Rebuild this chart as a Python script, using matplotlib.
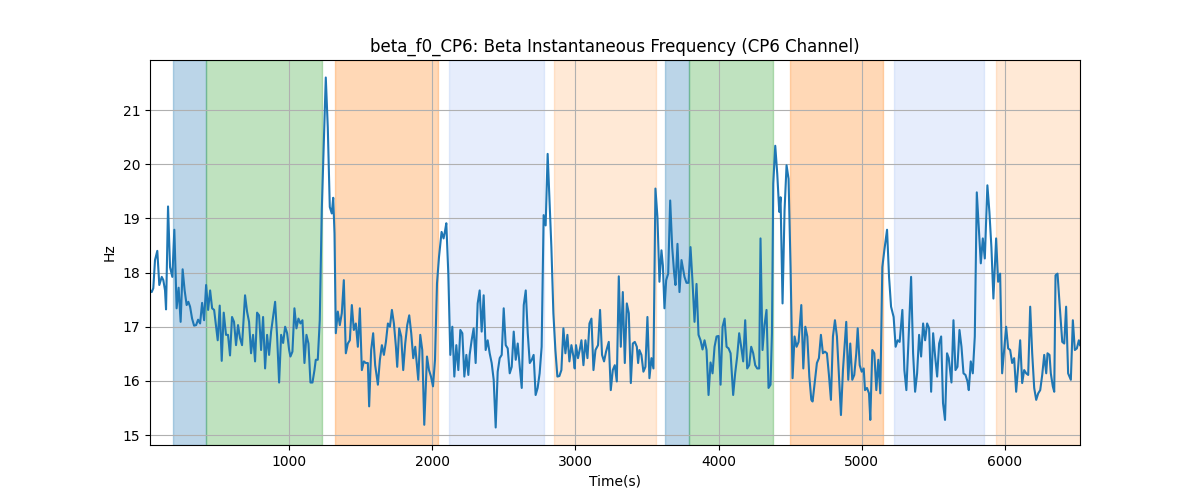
import matplotlib
matplotlib.use("Agg")
import matplotlib.pyplot as plt
import numpy as np

# ---- data: sample times (s) ----
time_s = [
    28, 40, 51, 63, 79, 93, 110, 121, 133, 140, 154, 168, 184, 198, 214, 228, 242, 256, 270, 284,
    296, 308, 322, 336, 350, 364, 378, 392, 406, 420, 434, 448, 462, 476, 490, 501, 515, 529, 543, 559,
    573, 587, 601, 615, 629, 643, 657, 671, 692, 706, 720, 734, 748, 762, 776, 790, 804, 818, 832, 846,
    860, 874, 888, 902, 916, 930, 944,
    958, 972, 986, 1000, 1009, 1023, 1037, 1051, 1065, 1079, 1093, 1107, 1121, 1135, 1149, 1163, 1177, 1186, 1200, 1214,
    1228, 1242, 1256, 1270, 1284, 1298, 1308, 1317, 1326, 1340, 1354, 1368, 1382, 1396, 1410, 1424, 1438, 1452, 1466, 1480,
    1494, 1508, 1522, 1536, 1550, 1559, 1573, 1587, 1601, 1620, 1634, 1648, 1662, 1676, 1690, 1704, 1718, 1732, 1746, 1755,
    1769, 1783, 1797, 1811, 1825, 1839, 1853, 1867, 1881,
    1902, 1916, 1930, 1944, 1963, 1977, 1991, 2005, 2019, 2033, 2047, 2065, 2079, 2088, 2098, 2112, 2126, 2140, 2154, 2168,
    2182, 2196, 2210, 2224, 2238, 2252, 2261, 2275, 2289, 2303, 2317, 2331, 2345, 2359, 2373, 2387, 2401, 2415, 2429, 2443,
    2457, 2471, 2485, 2499, 2513, 2527, 2541, 2555, 2569, 2583, 2597, 2611, 2625, 2639, 2653, 2667, 2681, 2695, 2708, 2722,
    2736, 2750, 2764, 2778, 2792, 2806,
    2832, 2846, 2860, 2874, 2888, 2902, 2916, 2930, 2944, 2958, 2972, 2986, 2995, 3004, 3018, 3032, 3042, 3056, 3070, 3084,
    3098, 3112, 3126, 3140, 3158, 3172, 3186, 3200, 3214, 3233, 3247, 3261, 3275, 3289, 3303, 3317, 3331, 3345, 3359, 3373,
    3387, 3401, 3415, 3429, 3438, 3447, 3461, 3475, 3489, 3503, 3517, 3531, 3545, 3559, 3573, 3587, 3601, 3611, 3622, 3634,
    3648, 3662, 3676, 3690, 3699, 3713, 3727, 3741,
    3762, 3776, 3790, 3804, 3818, 3832, 3846, 3860, 3874, 3888, 3902, 3916, 3930, 3944, 3958, 3972, 3986, 4000, 4014, 4028,
    4042, 4056, 4070, 4084, 4102, 4116, 4130, 4144, 4158, 4172, 4186, 4200, 4214, 4228, 4242, 4256, 4270, 4284, 4293, 4307,
    4321, 4335, 4349, 4363, 4373, 4382, 4396, 4410, 4424, 4433, 4447, 4461, 4475, 4489, 4503, 4517, 4531, 4545, 4559, 4578,
    4592, 4606, 4620, 4634, 4648, 4657, 4671,
    4687, 4701, 4715, 4729, 4743, 4757, 4771, 4785, 4799, 4813, 4827, 4841, 4855, 4869, 4883, 4892, 4906, 4920, 4934, 4948,
    4962, 4972, 4986, 5000, 5014, 5023, 5037, 5051, 5060, 5074, 5088, 5102, 5116, 5130, 5144, 5158, 5177, 5191, 5205, 5223,
    5237, 5251, 5265, 5284, 5298, 5312, 5326, 5345, 5359, 5373, 5387, 5401, 5415, 5429, 5443, 5457, 5471, 5485, 5499, 5513,
    5527, 5541, 5555, 5568, 5582, 5596, 5608,
    5627, 5641, 5655, 5669, 5683, 5697, 5711, 5725, 5739, 5748, 5762, 5776, 5790, 5804, 5818, 5832, 5846, 5860, 5878, 5892,
    5906, 5920, 5939, 5953, 5967, 5981, 5995, 6009, 6023, 6037, 6051, 6065, 6079, 6093, 6107, 6121, 6135, 6149, 6163, 6177,
    6191, 6205, 6219, 6233, 6247, 6261, 6275, 6289, 6298, 6312, 6321, 6335, 6345, 6354, 6368, 6382, 6401, 6415, 6428, 6442,
    6461, 6475, 6489, 6503, 6517, 6525,
]

# ---- data: beta instantaneous frequency (Hz) ----
beta_hz = [
    17.67, 17.64, 17.71, 18.23, 18.40, 17.77, 17.92, 17.86, 17.67, 17.32, 19.22, 18.10, 17.92, 18.79, 17.34, 17.72, 17.09, 18.06, 17.67, 17.40,
    17.46, 17.37, 17.15, 17.02, 17.03, 17.13, 17.06, 17.44, 17.12, 17.77, 17.31, 17.67, 17.34, 17.31, 17.00, 16.75, 17.39, 16.37, 17.26, 16.85,
    16.85, 16.47, 17.18, 17.09, 16.66, 17.03, 16.79, 16.66, 17.58, 17.28, 17.09, 16.51, 16.85, 16.36, 17.26, 17.21, 16.57, 17.18, 16.23, 16.85,
    16.48, 16.91, 17.18, 17.46, 16.82, 15.97, 16.85,
    16.70, 17.00, 16.88, 16.57, 16.45, 16.54, 17.34, 16.97, 17.15, 17.06, 17.12, 16.33, 16.85, 16.69, 15.97, 15.97, 16.20, 16.39, 16.39, 17.12,
    19.15, 20.37, 21.60, 20.68, 19.21, 19.09, 19.38, 18.72, 16.88, 17.28, 17.03, 17.25, 17.86, 16.51, 16.69, 16.75, 17.40, 16.94, 17.06, 16.63,
    17.34, 16.20, 16.36, 16.33, 16.33, 15.53, 16.57, 16.88, 16.29, 15.93, 16.39, 16.66, 16.48, 16.72, 17.06, 17.00, 17.31, 17.06, 16.63, 16.26,
    16.97, 16.82, 16.20, 16.69, 17.03, 17.21, 16.88, 16.42, 16.63,
    16.02, 16.85, 16.57, 15.19, 16.45, 16.20, 16.08, 15.90, 16.39, 17.80, 18.29, 18.75, 18.63, 18.75, 18.91, 17.98, 16.48, 17.00, 16.08, 16.66,
    16.20, 16.94, 16.88, 16.08, 16.48, 16.11, 16.48, 16.75, 16.97, 16.33, 17.43, 17.67, 16.91, 17.58, 16.57, 16.75, 16.51, 16.33, 16.02, 15.14,
    16.17, 16.42, 16.48, 17.34, 16.66, 16.60, 16.14, 16.26, 16.91, 16.39, 16.69, 16.26, 15.87, 17.40, 17.67, 16.88, 16.33, 16.39, 16.48, 15.74,
    15.87, 16.14, 16.63, 19.06, 18.87, 20.19,
    18.47, 17.25, 16.57, 16.08, 16.09, 16.20, 16.97, 16.51, 16.85, 16.36, 16.66, 16.45, 16.23, 16.66, 16.42, 16.60, 16.75, 16.29, 16.75, 16.42,
    17.06, 17.15, 16.20, 16.57, 16.66, 17.31, 16.48, 16.36, 16.54, 16.72, 15.83, 16.20, 16.29, 15.99, 17.93, 16.63, 17.64, 16.33, 17.43, 17.25,
    15.96, 16.69, 16.72, 16.63, 16.33, 16.57, 16.48, 16.17, 16.26, 17.18, 16.05, 16.42, 16.23, 19.55, 19.02, 17.83, 18.41, 18.13, 17.34, 17.86,
    17.98, 19.33, 18.47, 17.98, 17.77, 18.53, 17.64, 18.23,
    17.92, 17.81, 17.81, 18.47, 17.83, 17.09, 17.79, 16.85, 16.75, 16.58, 16.75, 16.57, 15.74, 16.34, 16.14, 16.63, 16.82, 16.83, 15.93, 17.00,
    17.15, 16.63, 16.60, 16.51, 15.74, 16.14, 16.45, 16.88, 16.63, 16.36, 17.12, 16.23, 16.29, 16.63, 16.51, 16.29, 16.23, 16.23, 18.63, 16.57,
    17.03, 17.31, 15.87, 15.93, 16.88, 19.64, 20.34, 19.82, 19.12, 19.39, 17.43, 19.15, 19.98, 19.73, 18.10, 16.05, 16.82, 16.63, 16.72, 17.40,
    16.23, 17.00, 16.82, 16.08, 15.65, 15.62, 15.96,
    16.33, 16.42, 16.85, 16.51, 16.54, 16.51, 16.11, 15.65, 16.82, 17.12, 16.82, 16.08, 15.37, 16.20, 16.75, 17.09, 16.02, 16.69, 16.02, 16.11,
    16.51, 16.97, 16.29, 16.17, 16.23, 15.83, 15.87, 15.77, 15.28, 16.57, 16.51, 15.83, 16.39, 15.77, 18.10, 18.41, 18.79, 17.92, 17.37, 17.18,
    16.63, 16.75, 16.72, 17.31, 16.20, 15.83, 16.69, 17.92, 16.51, 15.80, 16.14, 16.85, 16.45, 17.06, 16.75, 17.06, 16.97, 15.80, 16.88, 16.45,
    16.08, 16.69, 16.82, 15.59, 15.28, 16.51, 16.42,
    15.97, 17.12, 16.20, 16.26, 16.94, 16.63, 16.14, 16.11, 15.99, 15.83, 16.36, 16.14, 16.82, 19.48, 18.84, 18.17, 18.63, 18.26, 19.61, 19.12,
    18.47, 17.52, 18.63, 17.83, 17.98, 16.14, 16.57, 17.00, 16.60, 16.57, 16.33, 16.42, 15.80, 16.26, 16.75, 15.96, 16.20, 16.14, 16.11, 17.37,
    16.51, 15.87, 15.65, 15.77, 15.83, 16.11, 16.48, 16.14, 16.51, 16.48, 16.14, 15.90, 15.80, 17.95, 17.98, 17.43, 16.72, 16.69, 17.37, 16.14,
    16.02, 17.12, 16.57, 16.60, 16.75, 16.66,
]

# ---- data: task phases shaded behind the trace ----
phase_start = [189, 420, 1322, 2120, 2853, 3629, 3795, 4497, 5224, 5937]
phase_end = [420, 1233, 2038, 2782, 3565, 3795, 4380, 5146, 5853, 6525]
phase_kind = ["A", "B", "C", "D", "E", "A", "B", "C", "D", "E"]

# ---- styles ----
phase_style = {
    "A": ("tab:blue", 0.3),
    "B": ("tab:green", 0.3),
    "C": ("tab:orange", 0.3),
    "D": ("cornflowerblue", 0.16),
    "E": ("tab:orange", 0.17),
}

fig, ax = plt.subplots(figsize=(12, 5), dpi=100)

for s, e, k in zip(phase_start, phase_end, phase_kind):
    col, al = phase_style[k]
    ax.axvspan(s, e, color=col, alpha=al)

ax.plot(np.array(time_s), np.array(beta_hz), color="tab:blue", linewidth=1.5)

ax.set_xlim(time_s[0], time_s[-1])
ax.set_title("beta_f0_CP6: Beta Instantaneous Frequency (CP6 Channel)")
ax.set_xlabel("Time(s)")
ax.set_ylabel("Hz")
ax.grid(True)

fig.savefig("out.png", dpi=100)
